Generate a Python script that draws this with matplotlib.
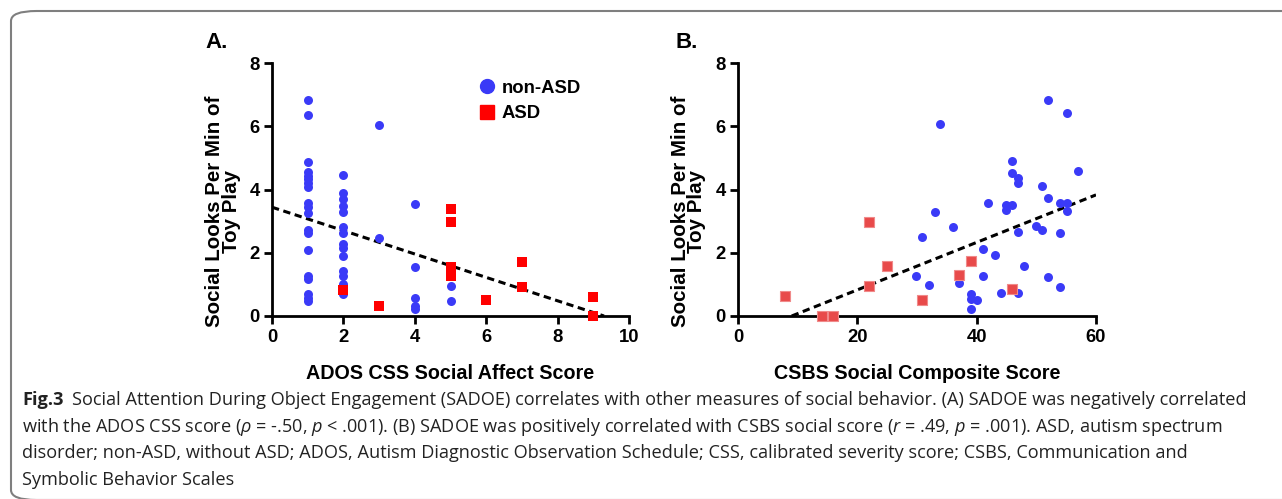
import matplotlib
matplotlib.use("Agg")
import matplotlib.pyplot as plt
from matplotlib.patches import FancyBboxPatch
from matplotlib.lines import Line2D

# ---------------- data ----------------
# Panel A: ADOS CSS Social Affect Score vs social looks per minute
a_nonasd_x = [1]*19 + [2]*14 + [3]*2 + [4]*5 + [5]*2
a_nonasd_y = [6.82, 6.37, 4.88, 4.55, 4.44, 4.33, 4.22, 4.09, 3.56, 3.46, 3.26, 2.73, 2.62, 2.09, 1.25, 1.16, 0.69, 0.58, 0.48,
              4.47, 3.88, 3.70, 3.47, 3.30, 2.83, 2.64, 2.29, 2.15, 1.90, 1.43, 1.26, 1.00, 0.69,
              6.05, 2.48,
              3.55, 1.55, 0.58, 0.32, 0.21,
              0.95, 0.48]
a_asd_x = [2, 3, 5, 5, 5, 5, 5, 6, 7, 7, 9, 9]
a_asd_y = [0.81, 0.32, 3.38, 2.96, 1.55, 1.43, 1.27, 0.50, 1.71, 0.93, 0.60, 0.0]
a_fit_x = [0, 9.3]
a_fit_y = [3.44, 0.0]

# Panel B: CSBS Social Composite Score vs social looks per minute
b_nonasd_x = [52.0, 55.1, 33.9, 46.0, 46.0, 57.0, 47.0, 47.0, 50.9, 52.0, 41.9, 44.9, 46.0, 44.9, 54.0, 55.1, 55.1,
              33.0, 36.0, 49.9, 50.9, 47.0, 54.0, 30.9, 41.0, 43.0, 47.9, 29.9, 41.0, 52.0, 32.0, 37.0, 54.0,
              44.0, 47.0, 39.0, 39.0, 40.0, 39.0]
b_nonasd_y = [6.84, 6.42, 6.08, 4.90, 4.53, 4.59, 4.36, 4.20, 4.11, 3.74, 3.58, 3.51, 3.51, 3.35, 3.58, 3.58, 3.33,
              3.30, 2.82, 2.84, 2.73, 2.66, 2.63, 2.50, 2.11, 1.92, 1.59, 1.27, 1.27, 1.22, 0.99, 1.03, 0.92,
              0.73, 0.73, 0.69, 0.55, 0.50, 0.21]
b_asd_x = [7.9, 14.0, 15.9, 22.0, 22.0, 25.0, 30.9, 37.0, 39.0, 46.0]
b_asd_y = [0.62, 0.0, 0.0, 2.96, 0.95, 1.58, 0.50, 1.31, 1.74, 0.84]
b_fit_x = [9.0, 60.0]
b_fit_y = [0.0, 3.83]

a_xticks = [0, 2, 4, 6, 8, 10]
b_xticks = [0, 20, 40, 60]
yticks = [0, 2, 4, 6, 8]

BLUE = "#3a3af7"
RED = "#ff0000"
RED_B = "#e84a4a"

plt.rcParams["font.family"] = ["Liberation Sans", "DejaVu Sans"]
plt.rcParams["mathtext.fontset"] = "custom"
plt.rcParams["mathtext.rm"] = "Open Sans"
plt.rcParams["mathtext.it"] = "Open Sans:italic"
plt.rcParams["mathtext.bf"] = "Open Sans:bold"

W, H = 1282, 499
fig = plt.figure(figsize=(W / 100, H / 100), dpi=100)


def fx(px):
    return px / W


def fy(py):
    return 1 - py / H


# border
border = FancyBboxPatch((fx(11), fy(500)), fx(1400), fy(11) - fy(500),
                        boxstyle="round,pad=0,rounding_size=0.02",
                        transform=fig.transFigure, fill=False,
                        edgecolor="#7f7f7f", linewidth=1.5, clip_on=False)
fig.patches.append(border)

axA = fig.add_axes([fx(272), fy(316), fx(629) - fx(272), fy(63) - fy(316)])
axB = fig.add_axes([fx(738), fy(316), fx(1096) - fx(738), fy(63) - fy(316)])

TICKFS = 13.3
XLABFS = 14.2
YLABFS = 14.8


def style(ax, xlim, xticks):
    ax.set_xlim(*xlim)
    ax.set_ylim(0, 8)
    ax.set_xticks(xticks)
    ax.set_yticks(yticks)
    for s in ["top", "right"]:
        ax.spines[s].set_visible(False)
    for s in ["left", "bottom"]:
        ax.spines[s].set_linewidth(2.0)
    ax.tick_params(direction="out", length=6, width=2.0, labelsize=TICKFS, pad=3)
    for lab in ax.get_xticklabels() + ax.get_yticklabels():
        lab.set_fontweight("bold")
    ax.set_ylabel("Social Looks Per Min of\nToy Play", fontsize=YLABFS, fontweight="bold",
                  linespacing=0.86)
    ax.yaxis.set_label_coords(-0.088, 0.415)


# Panel A
axA.plot(a_fit_x, a_fit_y, color="black", linestyle=(0, (2.4, 1.5)), linewidth=2.2, zorder=2)
axA.scatter(a_nonasd_x, a_nonasd_y, s=42, marker="o", color=BLUE, linewidths=0, zorder=3, clip_on=False)
axA.scatter(a_asd_x, a_asd_y, s=48, marker="s", color=RED, linewidths=0, zorder=4, clip_on=False)
style(axA, (0, 10), a_xticks)
axA.set_xlabel("ADOS CSS Social Affect Score", fontsize=XLABFS, fontweight="bold", labelpad=13)

# Panel B
axB.plot(b_fit_x, b_fit_y, color="black", linestyle=(0, (2.4, 1.5)), linewidth=2.2, zorder=2)
axB.scatter(b_nonasd_x, b_nonasd_y, s=42, marker="o", color=BLUE, linewidths=0, zorder=3, clip_on=False)
axB.scatter(b_asd_x, b_asd_y, s=48, marker="s", color=RED_B, edgecolors="#f08a8a", linewidths=0.8,
            zorder=4, clip_on=False)
style(axB, (0, 60), b_xticks)
axB.set_xlabel("CSBS Social Composite Score", fontsize=XLABFS, fontweight="bold", labelpad=13)

# legend
handles = [Line2D([], [], marker="o", linestyle="none", color=BLUE, markersize=10),
           Line2D([], [], marker="s", linestyle="none", color=RED, markersize=10)]
axA.legend(handles, ["non-ASD", "ASD"], loc="upper left", bbox_to_anchor=(0.535, 0.985),
           frameon=False, prop={"weight": "bold", "size": 13.3}, handletextpad=0.2,
           labelspacing=0.45, handlelength=1.2, borderaxespad=0.3)

# panel letters
fig.text(fx(217), fy(42), "A.", fontsize=16, fontweight="bold", ha="center", va="center")
fig.text(fx(687), fy(42), "B.", fontsize=16, fontweight="bold", ha="center", va="center")

# caption
CAPFS = 13.1
cap_head = "Fig.3"
cap_lines = [
    r"Social Attention During Object Engagement (SADOE) correlates with other measures of social behavior. (A) SADOE was negatively correlated",
    r"with the ADOS CSS score ($\rho$ = -.50, $p$ < .001). (B) SADOE was positively correlated with CSBS social score ($r$ = .49, $p$ = .001). ASD, autism spectrum",
    r"disorder; non-ASD, without ASD; ADOS, Autism Diagnostic Observation Schedule; CSS, calibrated severity score; CSBS, Communication and",
    r"Symbolic Behavior Scales",
]
cap_y = [400, 427, 453, 480]
head = fig.text(fx(22), fy(cap_y[0]), cap_head, fontsize=CAPFS, family="Open Sans", fontweight="bold",
                ha="left", va="center", color="#222222")
fig.canvas.draw()
head_bb = head.get_window_extent()
first_x = (head_bb.x1 + 8) / W
for i, (line, yy) in enumerate(zip(cap_lines, cap_y)):
    fig.text(first_x if i == 0 else fx(22), fy(yy), line, fontsize=CAPFS, family="Open Sans",
             ha="left", va="center", color="#222222")

fig.savefig("out.png", dpi=100)
